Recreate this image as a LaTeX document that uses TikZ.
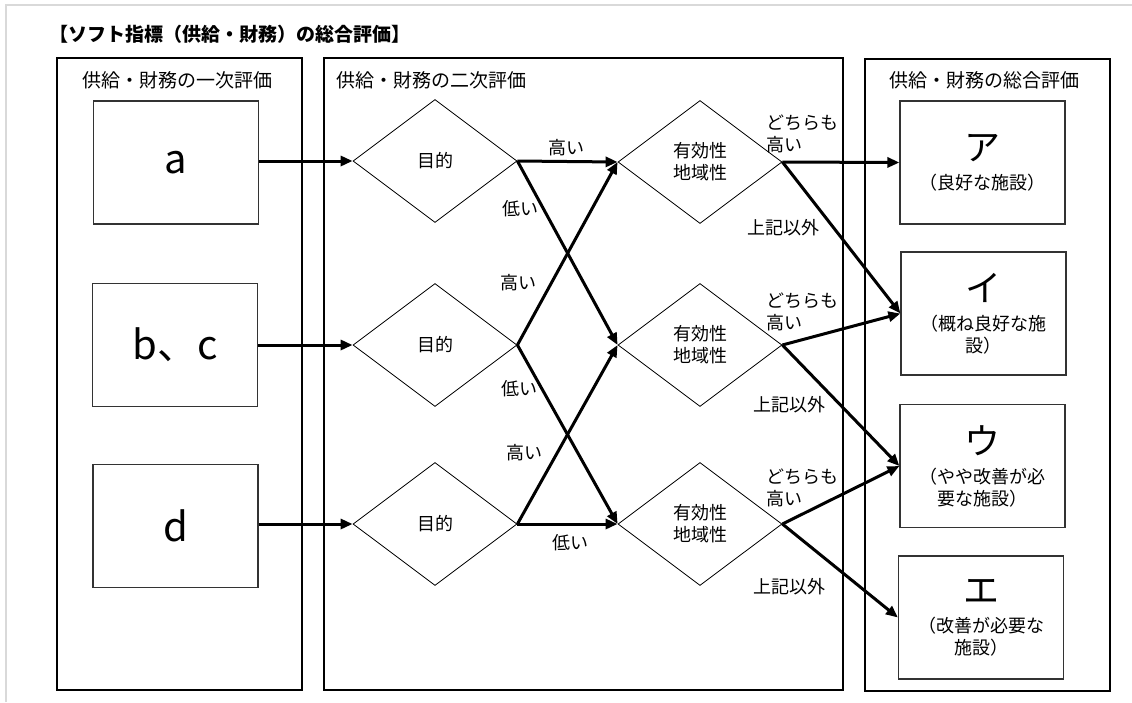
\documentclass[tikz,border=0pt]{standalone}
\usepackage{fontspec}
\setmainfont{Noto Sans CJK JP}
\usetikzlibrary{shapes.geometric,arrows.meta}
\begin{document}
\begin{tikzpicture}[x=1pt,y=-1pt,every node/.style={font=\fontsize{18}{22}\selectfont},
    panel/.style={draw,line width=2pt,minimum width=#1,minimum height=632pt,inner sep=0pt},
    evalbox/.style={draw=black!80,line width=1.2pt,minimum width=165pt,minimum height=123pt,inner sep=0pt,align=center},
    judge/.style={diamond,draw,line width=0.8pt,minimum width=164pt,minimum height=123pt,inner sep=0pt,align=center},
    arr/.style={-{Triangle[length=12pt,width=10pt]},line width=3pt},
    lbl/.style={anchor=west,inner sep=0pt,align=left}]
                \useasboundingbox (0,0) rectangle (1132,702);
                \fill[white] (0,0) rectangle (1132,702);
                \draw[black!15,line width=2pt] (6,702) -- (6,4.5) -- (1132,4.5);

                % Title
                \node[anchor=west,inner sep=0pt,font=\fontsize{19}{20}\selectfont\bfseries] (title) at (49,34) {【ソフト指標（供給・財務）の総合評価】};

                % Panels
                \node[panel=245pt] (p1) at (179.5,374) {};
                \node[panel=519pt] (p2) at (583.5,374) {};
                \node[panel=245pt] (p3) at (987.5,374.5) {};
                \node[font=\fontsize{19}{22}\selectfont] (h1) at (177,80) {供給・財務の一次評価};
                \node[anchor=west,inner sep=0pt,font=\fontsize{19}{22}\selectfont] (h2) at (336,80) {供給・財務の二次評価};
                \node[font=\fontsize{19}{22}\selectfont] (h3) at (984,80) {供給・財務の総合評価};

                % First evaluation
                \node[evalbox,font=\fontsize{40}{40}\selectfont] (boxa) at (176,162.5) {a};
                \node[evalbox,font=\fontsize{40}{40}\selectfont] (boxbc) at (175,345) {b、c};
                \node[evalbox,font=\fontsize{40}{40}\selectfont] (boxd) at (175.5,526) {d};

                % Second evaluation
                \node[judge] (pur1) at (435,161) {目的};
                \node[judge] (pur2) at (435,345) {目的};
                \node[judge] (pur3) at (435,524) {目的};
                \node[judge] (eff1) at (700,162) {有効性\\地域性};
                \node[judge] (eff2) at (700,345) {有効性\\地域性};
                \node[judge] (eff3) at (700,524) {有効性\\地域性};

                % Total evaluation
                \node[evalbox] (rankA) at (982.5,162.5) {{\fontsize{36}{36}\selectfont ア}\\[7pt]（良好な施設）};
                \node[evalbox] (rankI) at (983.5,313.5) {{\fontsize{36}{36}\selectfont イ}\\[7pt]（概ね良好な施\\設）};
                \node[evalbox] (rankU) at (982.5,466) {{\fontsize{36}{36}\selectfont ウ}\\[7pt]（やや改善が必\\要な施設）};
                \node[evalbox] (rankE) at (981,617.5) {{\fontsize{36}{36}\selectfont エ}\\[7pt]（改善が必要な\\施設）};

                % Arrows
                \draw[arr] (boxa.east |- pur1.west) -- (pur1.west);
                \draw[arr] (boxbc.east |- pur2.west) -- (pur2.west);
                \draw[arr] (boxd.east |- pur3.west) -- (pur3.west);
                \draw[arr] (pur1.east) -- (eff1.west);
                \draw[arr] (pur1.east) -- (eff2.west);
                \draw[arr] (pur2.east) -- (eff1.west);
                \draw[arr] (pur2.east) -- (eff3.west);
                \draw[arr] (pur3.east) -- (eff2.west);
                \draw[arr] (pur3.east) -- (eff3.west);
                \draw[arr] (eff1.east) -- (rankA.west);
                \draw[arr] (eff1.east) -- (rankI.west);
                \draw[arr] (eff2.east) -- (rankI.west);
                \draw[arr] (eff2.east) -- (rankU.west);
                \draw[arr] (eff3.east) -- (rankU.west);
                \draw[arr] (eff3.east) -- (rankE.west);

                % Labels
                \node (hi1) at (566,148) {高い};
                \node (lo1) at (520,209) {低い};
                \node (hi2) at (518,283) {高い};
                \node (lo2) at (519,389) {低い};
                \node (hi3) at (524,453) {高い};
                \node (lo3) at (570,543) {低い};
                \node[lbl] (both1) at (766,133.5) {どちらも\\高い};
                \node[lbl] (both2) at (766,311.5) {どちらも\\高い};
                \node[lbl] (both3) at (766,488) {どちらも\\高い};
                \node (else1) at (783,228) {上記以外};
                \node (else2) at (789,405) {上記以外};
                \node (else3) at (789,587) {上記以外};

            \end{tikzpicture}
\end{document}
